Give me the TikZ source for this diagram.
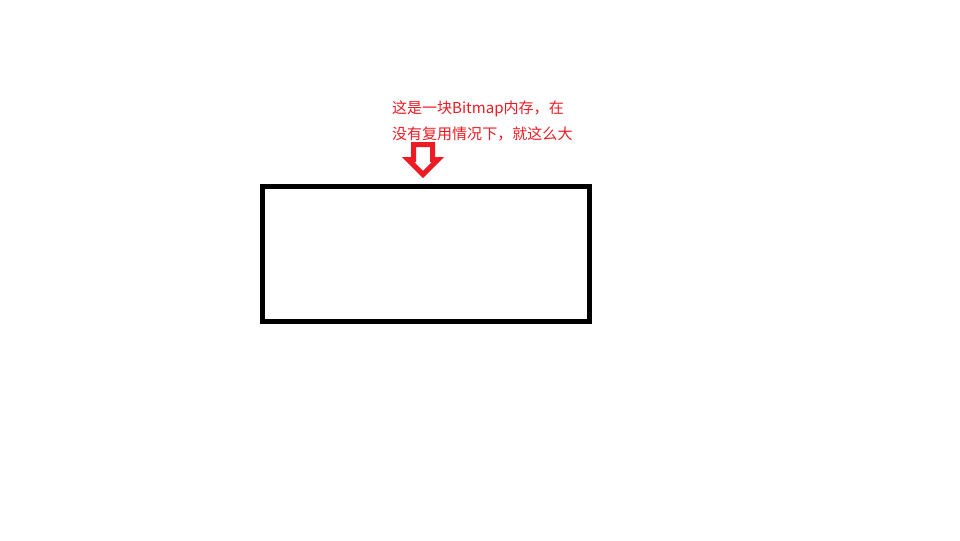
\documentclass[tikz,border=0pt]{standalone}
\usepackage{fontspec}
\setmainfont{Noto Sans CJK SC}
\usepackage{xcolor}
\usepackage{tikz}
\usetikzlibrary{positioning}
\definecolor{paintred}{HTML}{ED1C24}

\begin{document}
\begin{tikzpicture}[x=0.025cm,y=-0.025cm,node distance=0.65cm]
    \tikzstyle{every node}=[inner sep=0pt, outer sep=0pt]
    \tikzstyle{note}=[text=paintred, font=\fontsize{10.7pt}{13pt}\selectfont, anchor=base west]
    \useasboundingbox (0,0) rectangle (960,540);
    
    \node[draw, line width=0.125cm, minimum width=8.175cm, minimum height=3.375cm] (bitmap) at (426,254) {};
    
    \node[note] (line1) at (392,113) {这是一块Bitmap内存，在};
    \node[note] (line2) [below=of line1.base west, anchor=base west] {没有复用情况下，就这么大};
    
    \draw [paintred, line width=0.125cm, miter limit=10] (413.5,144.5) -- (432.5,144.5) -- (432.5,159.5) -- (438,159.5) -- (423,174.5) -- (408,159.5) -- (413.5,159.5) -- cycle;
\end{tikzpicture}
\end{document}
